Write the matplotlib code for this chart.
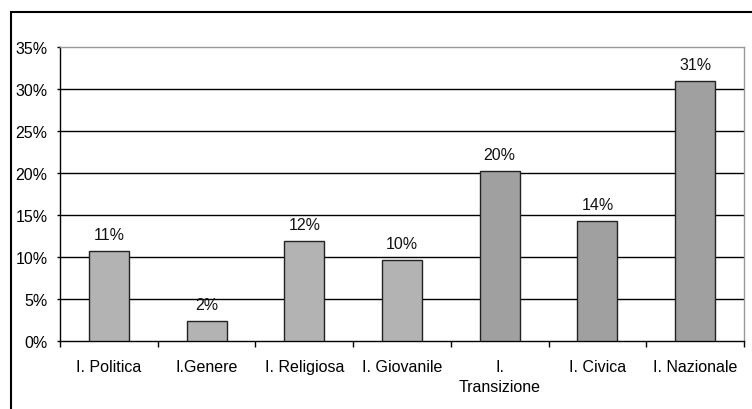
import matplotlib
matplotlib.use("Agg")
import matplotlib.pyplot as plt
from matplotlib.patches import Rectangle
from matplotlib.ticker import FuncFormatter, FixedLocator

plt.rcParams['font.family'] = ['Liberation Sans', 'DejaVu Sans']

categories = ["I. Politica", "I.Genere", "I. Religiosa", "I. Giovanile",
              "I.\nTransizione", "I. Civica", "I. Nazionale"]
values = [10.7, 2.4, 11.9, 9.6, 20.2, 14.3, 31.0]
bar_colors = ["#b3b3b3", "#b3b3b3", "#b3b3b3", "#b3b3b3",
              "#a0a0a0", "#a0a0a0", "#a0a0a0"]
y_ticks = [0, 5, 10, 15, 20, 25, 30, 35]

FS = 11.5
W, H = 752, 410
fig = plt.figure(figsize=(W / 100, H / 100), dpi=100)

# outer chart frame (left and top edges visible)
fig.add_artist(Rectangle((11 / W, -0.1), 1.2, (1 - 13 / H) + 0.1,
                         transform=fig.transFigure, fill=False,
                         edgecolor="black", linewidth=1.5))

ax = fig.add_axes([60 / W, 1 - 342 / H, (744 - 60) / W, (342 - 48) / H])

x = list(range(len(categories)))
ax.bar(x, values, width=0.41, color=bar_colors, edgecolor="#222222",
       linewidth=1.0, zorder=3)

for xi, v in zip(x, values):
    ax.annotate(f"{v:.0f}%", (xi, v), xytext=(0, 6.5), textcoords="offset points",
                ha="center", va="bottom", fontsize=FS, color="#111111")

ax.set_xlim(-0.5, len(categories) - 0.5)
ax.set_ylim(0, 35)
ax.set_yticks(y_ticks)
ax.yaxis.set_major_formatter(FuncFormatter(lambda v, p: f"{v:.0f}%"))

# horizontal gridlines
for t in y_ticks[1:-1]:
    ax.axhline(t, color="black", linewidth=1.0, zorder=1)

ax.set_xticks(x)
ax.set_xticklabels(categories, fontsize=FS, linespacing=1.4)
ax.xaxis.set_minor_locator(FixedLocator([i + 0.5 for i in range(-1, len(categories))]))
ax.tick_params(axis="x", which="major", length=0, pad=13)
ax.tick_params(axis="x", which="minor", length=4, width=1.0, direction="out")
ax.tick_params(axis="y", length=2, width=1.0, pad=7, labelsize=FS)

for side in ["top", "right"]:
    ax.spines[side].set_color("#999999")
    ax.spines[side].set_linewidth(1.0)
for side in ["left", "bottom"]:
    ax.spines[side].set_color("black")
    ax.spines[side].set_linewidth(1.0)

fig.savefig("out.png", dpi=100)
